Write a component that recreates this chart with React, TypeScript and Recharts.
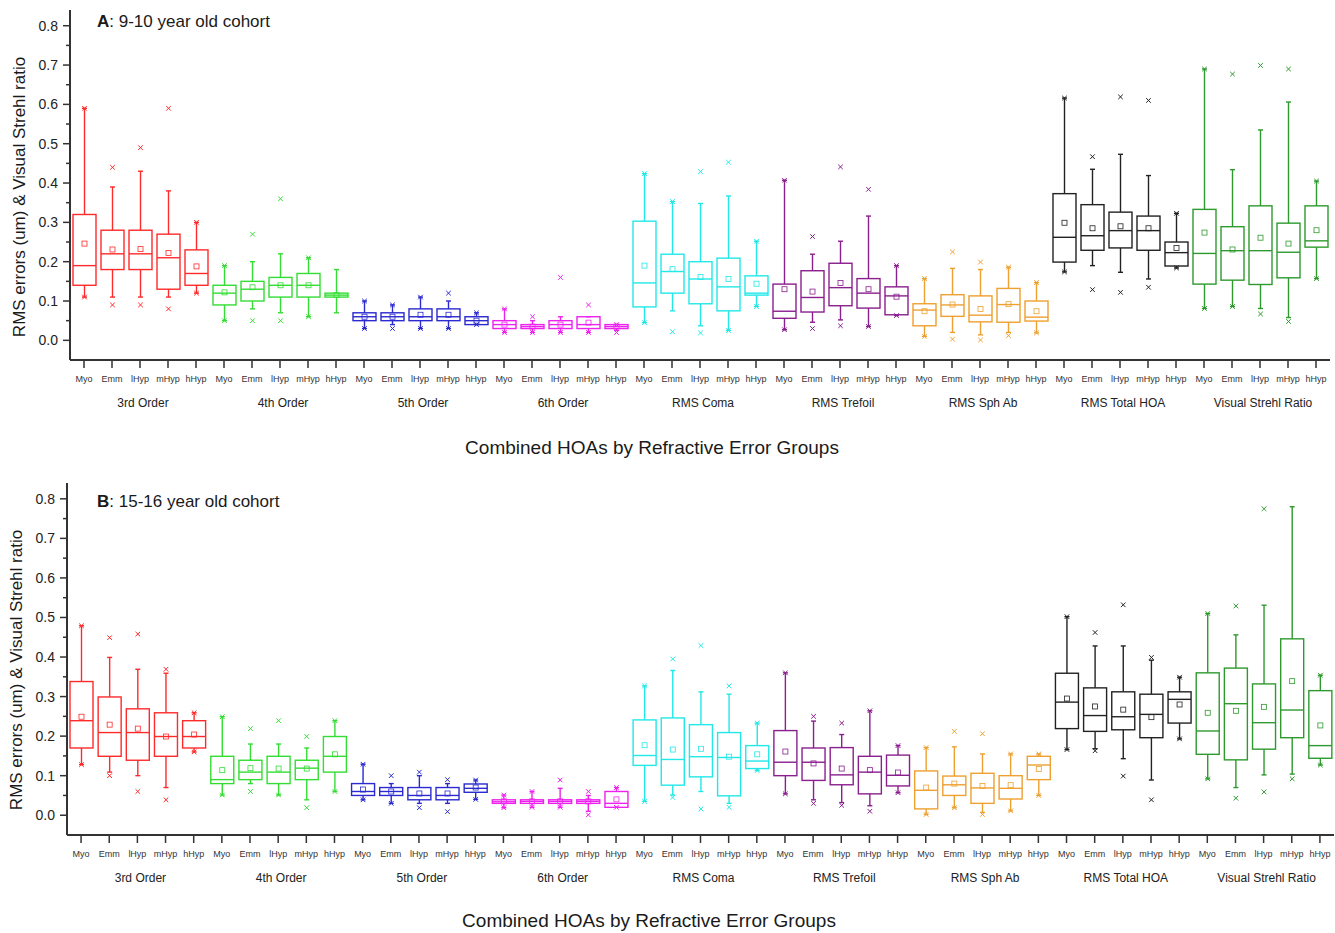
import React from 'react';
import { ComposedChart, Bar, XAxis, YAxis } from 'recharts';

// [whiskerLow, q1, median, q3, whiskerHigh, mean, minMark, maxMark]
type Box = [number, number, number, number, number, number, number | null, number | null];

const CATEGORIES = ['Myo', 'Emm', 'lHyp', 'mHyp', 'hHyp'];
const GROUPS = ['3rd Order', '4th Order', '5th Order', '6th Order', 'RMS Coma', 'RMS Trefoil', 'RMS Sph Ab', 'RMS Total HOA', 'Visual Strehl Ratio'];
const Y_TICKS = [0, 0.05, 0.1, 0.15, 0.2, 0.25, 0.3, 0.35, 0.4, 0.45, 0.5, 0.55, 0.6, 0.65, 0.7, 0.75, 0.8];

// ---------- Panel A: 9-10 year old cohort ----------
const A_ORDER3: Box[] = [
  [0.11, 0.14, 0.19, 0.32, 0.59, 0.246, 0.11, 0.59],
  [0.11, 0.18, 0.22, 0.28, 0.39, 0.231, 0.09, 0.44],
  [0.11, 0.18, 0.22, 0.28, 0.43, 0.232, 0.09, 0.49],
  [0.11, 0.13, 0.21, 0.27, 0.38, 0.222, 0.08, 0.59],
  [0.12, 0.14, 0.17, 0.23, 0.30, 0.188, 0.12, 0.30],
];
const A_ORDER4: Box[] = [
  [0.05, 0.09, 0.12, 0.14, 0.19, 0.122, 0.05, 0.19],
  [0.08, 0.10, 0.13, 0.15, 0.20, 0.135, 0.05, 0.27],
  [0.07, 0.11, 0.14, 0.16, 0.22, 0.14, 0.05, 0.36],
  [0.06, 0.11, 0.14, 0.17, 0.21, 0.14, 0.06, 0.21],
  [0.07, 0.11, 0.115, 0.12, 0.18, 0.115, null, null],
];
const A_ORDER5: Box[] = [
  [0.03, 0.05, 0.06, 0.07, 0.10, 0.06, 0.03, 0.10],
  [0.04, 0.05, 0.06, 0.07, 0.09, 0.06, 0.03, 0.09],
  [0.03, 0.05, 0.06, 0.08, 0.11, 0.065, 0.03, 0.11],
  [0.03, 0.05, 0.06, 0.08, 0.10, 0.065, 0.03, 0.12],
  [0.04, 0.04, 0.05, 0.06, 0.07, 0.05, 0.04, 0.07],
];
const A_ORDER6: Box[] = [
  [0.02, 0.03, 0.04, 0.05, 0.08, 0.04, 0.02, 0.08],
  [0.02, 0.03, 0.035, 0.04, 0.05, 0.035, 0.02, 0.06],
  [0.02, 0.03, 0.04, 0.05, 0.06, 0.04, 0.02, 0.16],
  [0.02, 0.03, 0.04, 0.06, 0.06, 0.045, 0.02, 0.09],
  [0.025, 0.03, 0.035, 0.04, 0.04, 0.035, 0.02, 0.04],
];
const A_COMA: Box[] = [
  [0.045, 0.085, 0.146, 0.303, 0.424, 0.19, 0.045, 0.424],
  [0.075, 0.12, 0.175, 0.219, 0.353, 0.181, 0.022, 0.353],
  [0.037, 0.093, 0.156, 0.20, 0.348, 0.161, 0.019, 0.429],
  [0.025, 0.075, 0.136, 0.209, 0.367, 0.156, 0.025, 0.453],
  [0.086, 0.115, 0.12, 0.164, 0.252, 0.144, 0.086, 0.252],
];
const A_TREFOIL: Box[] = [
  [0.027, 0.056, 0.074, 0.143, 0.407, 0.13, 0.027, 0.407],
  [0.046, 0.072, 0.109, 0.177, 0.219, 0.124, 0.03, 0.264],
  [0.052, 0.088, 0.134, 0.196, 0.252, 0.146, 0.037, 0.441],
  [0.035, 0.082, 0.12, 0.157, 0.316, 0.13, 0.035, 0.384],
  [0.063, 0.065, 0.113, 0.136, 0.19, 0.111, 0.063, 0.19],
];
const A_SPHAB: Box[] = [
  [0.01, 0.037, 0.077, 0.093, 0.157, 0.074, 0.01, 0.157],
  [0.02, 0.061, 0.09, 0.116, 0.183, 0.091, 0.003, 0.225],
  [0.014, 0.047, 0.064, 0.113, 0.18, 0.08, 0.001, 0.199],
  [0.02, 0.046, 0.091, 0.132, 0.186, 0.092, 0.012, 0.186],
  [0.019, 0.049, 0.059, 0.10, 0.147, 0.074, 0.019, 0.147],
];
const A_TOTAL: Box[] = [
  [0.174, 0.199, 0.262, 0.373, 0.616, 0.299, 0.174, 0.616],
  [0.19, 0.229, 0.266, 0.345, 0.435, 0.285, 0.129, 0.467],
  [0.173, 0.235, 0.279, 0.326, 0.473, 0.29, 0.122, 0.619],
  [0.156, 0.229, 0.279, 0.316, 0.419, 0.285, 0.135, 0.61],
  [0.184, 0.189, 0.223, 0.25, 0.323, 0.235, 0.184, 0.323],
];
const A_VSR: Box[] = [
  [0.081, 0.143, 0.221, 0.333, 0.69, 0.274, 0.081, 0.69],
  [0.086, 0.153, 0.228, 0.289, 0.434, 0.231, 0.086, 0.677],
  [0.081, 0.142, 0.228, 0.342, 0.535, 0.261, 0.067, 0.699],
  [0.058, 0.159, 0.224, 0.298, 0.606, 0.246, 0.048, 0.69],
  [0.157, 0.237, 0.253, 0.342, 0.405, 0.28, 0.157, 0.405],
];

// ---------- Panel B: 15-16 year old cohort ----------
const B_ORDER3: Box[] = [
  [0.128, 0.17, 0.239, 0.338, 0.479, 0.249, 0.128, 0.479],
  [0.109, 0.149, 0.209, 0.299, 0.399, 0.229, 0.10, 0.449],
  [0.10, 0.139, 0.209, 0.269, 0.369, 0.219, 0.06, 0.458],
  [0.07, 0.149, 0.199, 0.259, 0.359, 0.199, 0.039, 0.369],
  [0.16, 0.17, 0.199, 0.239, 0.259, 0.204, 0.16, 0.259],
];
const B_ORDER4: Box[] = [
  [0.051, 0.08, 0.09, 0.149, 0.249, 0.114, 0.051, 0.249],
  [0.08, 0.09, 0.109, 0.139, 0.18, 0.119, 0.06, 0.219],
  [0.051, 0.08, 0.109, 0.149, 0.18, 0.118, 0.051, 0.239],
  [0.039, 0.09, 0.119, 0.139, 0.17, 0.118, 0.019, 0.199],
  [0.06, 0.109, 0.149, 0.199, 0.239, 0.154, 0.06, 0.239],
];
const B_ORDER5: Box[] = [
  [0.039, 0.05, 0.06, 0.08, 0.129, 0.065, 0.039, 0.129],
  [0.03, 0.05, 0.06, 0.07, 0.08, 0.06, 0.03, 0.10],
  [0.03, 0.039, 0.05, 0.07, 0.10, 0.055, 0.019, 0.109],
  [0.03, 0.039, 0.05, 0.07, 0.08, 0.055, 0.009, 0.09],
  [0.04, 0.058, 0.068, 0.079, 0.089, 0.07, 0.04, 0.089],
];
const B_ORDER6: Box[] = [
  [0.019, 0.03, 0.034, 0.039, 0.051, 0.035, 0.019, 0.051],
  [0.02, 0.03, 0.035, 0.039, 0.06, 0.035, 0.02, 0.06],
  [0.02, 0.03, 0.035, 0.039, 0.068, 0.035, 0.02, 0.089],
  [0.01, 0.03, 0.035, 0.039, 0.05, 0.035, 0.001, 0.06],
  [0.02, 0.02, 0.03, 0.06, 0.07, 0.04, 0.02, 0.07],
];
const B_COMA: Box[] = [
  [0.035, 0.126, 0.151, 0.241, 0.327, 0.177, 0.035, 0.327],
  [0.051, 0.076, 0.141, 0.246, 0.366, 0.166, 0.045, 0.395],
  [0.06, 0.097, 0.148, 0.229, 0.312, 0.168, 0.016, 0.429],
  [0.03, 0.049, 0.146, 0.209, 0.306, 0.148, 0.02, 0.327],
  [0.113, 0.118, 0.137, 0.176, 0.233, 0.154, 0.113, 0.233],
];
const B_TREFOIL: Box[] = [
  [0.054, 0.10, 0.134, 0.214, 0.36, 0.161, 0.054, 0.36],
  [0.039, 0.088, 0.134, 0.17, 0.238, 0.131, 0.03, 0.25],
  [0.032, 0.077, 0.102, 0.171, 0.204, 0.118, 0.025, 0.233],
  [0.024, 0.054, 0.109, 0.149, 0.264, 0.114, 0.01, 0.264],
  [0.057, 0.074, 0.101, 0.152, 0.176, 0.108, 0.057, 0.176],
];
const B_SPHAB: Box[] = [
  [0.002, 0.016, 0.063, 0.112, 0.171, 0.07, 0.002, 0.171],
  [0.019, 0.05, 0.077, 0.099, 0.173, 0.08, 0.019, 0.212],
  [0.007, 0.03, 0.069, 0.106, 0.155, 0.074, 0.002, 0.206],
  [0.011, 0.041, 0.068, 0.10, 0.155, 0.076, 0.011, 0.155],
  [0.05, 0.09, 0.127, 0.149, 0.155, 0.117, 0.05, 0.155],
];
const B_TOTAL: Box[] = [
  [0.166, 0.219, 0.286, 0.359, 0.502, 0.295, 0.166, 0.502],
  [0.168, 0.212, 0.252, 0.322, 0.428, 0.275, 0.163, 0.462],
  [0.143, 0.216, 0.249, 0.312, 0.428, 0.267, 0.099, 0.532],
  [0.089, 0.196, 0.255, 0.306, 0.392, 0.248, 0.039, 0.399],
  [0.193, 0.233, 0.293, 0.312, 0.349, 0.28, 0.193, 0.349],
];
const B_VSR: Box[] = [
  [0.092, 0.154, 0.213, 0.36, 0.51, 0.259, 0.092, 0.51],
  [0.07, 0.14, 0.282, 0.372, 0.456, 0.264, 0.043, 0.529],
  [0.102, 0.167, 0.234, 0.332, 0.531, 0.274, 0.059, 0.775],
  [0.104, 0.196, 0.266, 0.446, 0.78, 0.339, 0.092, null],
  [0.127, 0.144, 0.176, 0.315, 0.354, 0.227, 0.127, 0.354],
];

const PANEL_A = [A_ORDER3, A_ORDER4, A_ORDER5, A_ORDER6, A_COMA, A_TREFOIL, A_SPHAB, A_TOTAL, A_VSR];
const PANEL_B = [B_ORDER3, B_ORDER4, B_ORDER5, B_ORDER6, B_COMA, B_TREFOIL, B_SPHAB, B_TOTAL, B_VSR];

const GROUP_COLORS = ['#ff2a2a', '#33dd33', '#2a2ad0', '#ee22ee', '#22e8e8', '#8a1f8e', '#eea030', '#222222', '#2e9a2e'];
const FONT = '"Liberation Sans", Arial, Helvetica, sans-serif';

function buildRows(panel: Box[][]) {
  const rows: any[] = [];
  panel.forEach((boxes, gi) => {
    boxes.forEach((b, ci) => {
      const [wLo, q1, med, q3, wHi, mean, xLo, xHi] = b;
      const lo = Math.min(wLo, xLo ?? wLo);
      const hi = Math.max(wHi, xHi ?? wHi);
      rows.push({ id: `${gi}-${ci}`, gi, ci, wLo, q1, med, q3, wHi, mean, xLo, xHi, lo, hi });
    });
  });
  return rows;
}

const BoxShape = (props: any) => {
  const { x, y, width, height, payload } = props;
  if (!payload || x == null || y == null) return null;
  const { lo, hi, wLo, q1, med, q3, wHi, mean, xLo, xHi, gi } = payload;
  const py = (v: number) => y + (height * (hi - v)) / (hi - lo);
  const cx = x + width / 2;
  const c = GROUP_COLORS[gi];
  const sw = 1.4;
  const cap = 2.5;
  const xm = 2.3;
  const cross = (v: number | null, k: string) =>
    v == null ? null : (
      <g key={k}>
        <line x1={cx - xm} y1={py(v) - xm} x2={cx + xm} y2={py(v) + xm} stroke={c} strokeWidth={1} />
        <line x1={cx - xm} y1={py(v) + xm} x2={cx + xm} y2={py(v) - xm} stroke={c} strokeWidth={1} />
      </g>
    );
  return (
    <g>
      <line x1={cx} y1={py(wHi)} x2={cx} y2={py(q3)} stroke={c} strokeWidth={sw} />
      <line x1={cx} y1={py(q1)} x2={cx} y2={py(wLo)} stroke={c} strokeWidth={sw} />
      <line x1={cx - cap} y1={py(wHi)} x2={cx + cap} y2={py(wHi)} stroke={c} strokeWidth={sw} />
      <line x1={cx - cap} y1={py(wLo)} x2={cx + cap} y2={py(wLo)} stroke={c} strokeWidth={sw} />
      <rect x={x} y={py(q3)} width={width} height={Math.max(0.5, py(q1) - py(q3))} fill="none" stroke={c} strokeWidth={sw} />
      <line x1={x} y1={py(med)} x2={x + width} y2={py(med)} stroke={c} strokeWidth={sw} />
      <rect x={cx - 2.5} y={py(mean) - 2.5} width={5} height={5} fill="none" stroke={c} strokeWidth={0.8} />
      {cross(xHi, 'h')}
      {cross(xLo, 'l')}
    </g>
  );
};

const YTick = (props: any) => {
  const { x, y, payload } = props;
  const v = payload.value;
  const major = Math.abs(v * 10 - Math.round(v * 10)) < 1e-6;
  return (
    <g>
      <line x1={x - (major ? 7 : 4)} y1={y} x2={x} y2={y} stroke="#333" strokeWidth={1.5} />
      {major && (
        <text x={x - 12} y={y} textAnchor="end" dominantBaseline="central" fontSize={14} fill="#222" fontFamily={FONT}>
          {v.toFixed(1)}
        </text>
      )}
    </g>
  );
};

const makeXTick = (dyCat: number, dyGroup: number) => (props: any) => {
  const { x, y, payload } = props;
  const idx = payload.index as number;
  const ci = idx % 5;
  const gi = Math.floor(idx / 5);
  return (
    <g>
      <text x={x} y={y + dyCat} textAnchor="middle" fontSize={9} fill="#333" fontFamily={FONT}>
        {CATEGORIES[ci]}
      </text>
      {ci === 2 && (
        <text x={x + 3} y={y + dyGroup} textAnchor="middle" fontSize={12} fill="#222" fontFamily={FONT}>
          {GROUPS[gi]}
        </text>
      )}
    </g>
  );
};

const Panel = ({ rows, top, yWidth, rightMargin, xHeight }: any) => (
  <div style={{ position: 'absolute', left: 0, top, width: 1335, height: 470 }}>
    <ComposedChart width={1335} height={470} data={rows} margin={{ top: 10, right: rightMargin, bottom: 0, left: 0 }}>
      <XAxis
        dataKey="id"
        type="category"
        height={xHeight}
        interval={0}
        tickSize={8}
        tickMargin={2}
        tickLine={{ stroke: '#333', strokeWidth: 1.5 }}
        axisLine={{ stroke: '#333', strokeWidth: 2 }}
        tick={makeXTick(12, 37)}
      />
      <YAxis
        type="number"
        domain={[-0.05, 0.84]}
        allowDataOverflow
        ticks={Y_TICKS}
        interval={0}
        width={yWidth}
        tickSize={0}
        tickMargin={0}
        tickLine={false}
        axisLine={{ stroke: '#333', strokeWidth: 2 }}
        tick={<YTick />}
      />
      <Bar dataKey={(d: any) => [d.lo, d.hi]} barSize={23} isAnimationActive={false} shape={<BoxShape />} />
    </ComposedChart>
  </div>
);

const textStyle: React.CSSProperties = { position: 'absolute', fontFamily: FONT, color: '#1a1a1a', whiteSpace: 'nowrap' };

export default function App() {
  const rowsA = buildRows(PANEL_A);
  const rowsB = buildRows(PANEL_B);
  return (
    <div style={{ position: 'absolute', left: 0, top: 0, width: 1335, height: 933, background: '#fff', overflow: 'hidden' }}>
      <Panel rows={rowsA} top={0} yWidth={70} rightMargin={5} xHeight={110} />
      <Panel rows={rowsB} top={473} yWidth={67} rightMargin={1} xHeight={108} />

      <div style={{ ...textStyle, left: 97, top: 12, fontSize: 17, lineHeight: '20px' }}>
        <b>A</b>: 9-10 year old cohort
      </div>
      <div style={{ ...textStyle, left: 652, top: 437, fontSize: 19, lineHeight: '22px', transform: 'translateX(-50%)' }}>
        Combined HOAs by Refractive Error Groups
      </div>
      <div style={{ ...textStyle, left: 20, top: 197, fontSize: 17, lineHeight: '20px', transform: 'translate(-50%,-50%) rotate(-90deg)' }}>
        RMS errors (um) &amp; Visual Strehl ratio
      </div>

      <div style={{ ...textStyle, left: 97, top: 492, fontSize: 17, lineHeight: '20px' }}>
        <b>B</b>: 15-16 year old cohort
      </div>
      <div style={{ ...textStyle, left: 649, top: 910, fontSize: 19, lineHeight: '22px', transform: 'translateX(-50%)' }}>
        Combined HOAs by Refractive Error Groups
      </div>
      <div style={{ ...textStyle, left: 17, top: 670, fontSize: 17, lineHeight: '20px', transform: 'translate(-50%,-50%) rotate(-90deg)' }}>
        RMS errors (um) &amp; Visual Strehl ratio
      </div>
    </div>
  );
}
